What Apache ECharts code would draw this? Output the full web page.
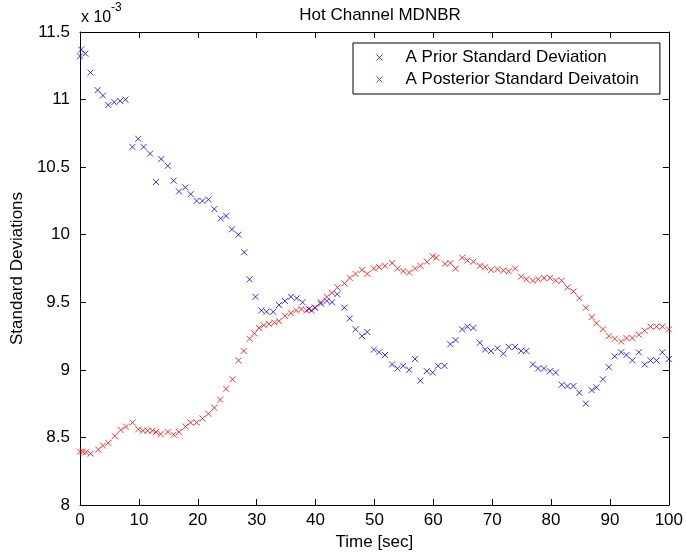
<!DOCTYPE html>
<html>
<head>
<meta charset="utf-8">
<script src="https://cdn.jsdelivr.net/npm/echarts@6/dist/echarts.min.js"></script>
<style>
html,body{margin:0;padding:0;background:#fff;}
#chart{width:686px;height:556px;}
</style>
</head>
<body>
<div id="chart"></div>
<script>
// Values are in units of 1e-3
var priorTime = [0,0.2,0.9,1.8,3.0,3.9,4.8,5.8,6.8,7.7,8.9,9.9,10.8,11.9,12.9,13.8,14.9,15.9,16.8,17.9,18.8,19.8,20.8,21.8,22.8,23.9,24.8,25.8,26.9,27.9,28.8,29.8,30.8,31.7,32.8,33.8,34.8,35.8,36.8,37.8,38.9,39.9,40.9,41.9,42.8,43.7,44.9,45.8,46.8,47.9,48.8,49.9,50.8,51.8,53.0,53.9,54.9,55.9,56.9,57.8,58.9,59.9,60.8,61.9,62.9,63.8,64.9,65.8,66.8,67.9,68.8,69.8,70.9,71.9,72.8,73.9,74.9,75.8,76.9,77.8,78.8,79.8,80.8,81.8,82.8,83.8,84.8,85.9,86.9,87.7,88.8,89.8,90.8,91.9,92.8,93.8,94.9,95.9,96.9,97.9,98.9,100];
var priorStd = [11.32,11.37,11.34,11.2,11.07,11.03,10.96,10.98,10.99,11.0,10.65,10.71,10.65,10.6,10.39,10.56,10.51,10.40,10.32,10.35,10.30,10.25,10.25,10.26,10.19,10.12,10.14,10.04,10.0,9.87,9.67,9.54,9.44,9.43,9.43,9.48,9.51,9.54,9.53,9.50,9.45,9.46,9.49,9.51,9.50,9.56,9.46,9.38,9.30,9.25,9.28,9.15,9.13,9.11,9.04,9.01,9.03,9.00,9.08,8.92,8.99,8.98,9.03,9.03,9.19,9.22,9.30,9.32,9.31,9.20,9.15,9.14,9.16,9.12,9.17,9.17,9.14,9.14,9.04,9.01,9.01,8.99,8.98,8.89,8.88,8.88,8.83,8.75,8.85,8.87,8.93,9.02,9.10,9.13,9.11,9.07,9.13,9.04,9.07,9.07,9.13,9.08];
var postTime = [0,0.45,1.0,1.8,3.1,3.9,4.8,5.9,6.9,7.8,8.9,9.9,10.7,11.5,12.3,12.9,13.7,14.9,15.9,16.8,17.9,18.8,19.8,20.8,21.8,22.8,23.8,24.8,25.9,26.9,27.8,28.8,29.6,30.4,31.2,32.1,33.0,33.8,34.8,35.8,36.7,37.6,38.5,39.3,39.9,40.9,41.9,42.8,43.7,44.9,45.8,46.8,47.9,48.8,49.9,50.8,51.8,53.0,53.9,54.9,55.9,56.9,57.8,58.9,59.9,60.5,62.0,62.9,63.8,64.9,65.8,66.8,67.9,68.8,69.8,70.9,71.9,72.8,73.9,74.9,75.8,76.9,77.8,78.8,79.8,80.8,81.8,82.8,83.8,84.8,85.9,86.9,87.7,88.8,89.8,90.8,91.9,92.8,93.8,94.9,95.9,96.9,97.9,98.9,100];
var postStd = [8.395,8.395,8.39,8.38,8.41,8.44,8.46,8.51,8.555,8.58,8.61,8.56,8.55,8.55,8.55,8.54,8.525,8.54,8.52,8.54,8.58,8.61,8.61,8.64,8.675,8.72,8.78,8.86,8.93,9.07,9.14,9.23,9.27,9.31,9.33,9.34,9.35,9.36,9.40,9.42,9.44,9.45,9.44,9.44,9.46,9.50,9.54,9.57,9.61,9.64,9.68,9.71,9.74,9.71,9.75,9.76,9.77,9.79,9.75,9.73,9.72,9.75,9.77,9.80,9.84,9.83,9.785,9.79,9.75,9.83,9.81,9.80,9.77,9.76,9.74,9.745,9.735,9.73,9.75,9.69,9.67,9.66,9.67,9.68,9.68,9.66,9.66,9.61,9.58,9.53,9.46,9.39,9.345,9.30,9.25,9.23,9.21,9.235,9.235,9.26,9.29,9.32,9.32,9.32,9.30];
var seriesNames = ['A Prior Standard Deviation','A Posterior Standard Deivatoin'];
var seriesColors = ['#0000ff','#ff0000'];
var xTicks = {min:0, max:100, interval:10};
var yTicks = {min:8, max:11.5, interval:0.5};

function pairs(xs, ys){ return xs.map(function(x,i){ return [x, ys[i]]; }); }

var FONT = '"Liberation Sans", Arial, Helvetica, sans-serif';
var FS = 17;
var cross = 'path://M0,0L10,10M10,0L0,10';
var chart = echarts.init(document.getElementById('chart'), null, {renderer:'canvas'});

function axisCommon(extra){
  return Object.assign({
    type:'value',
    axisLine:{show:true, onZero:false, lineStyle:{color:'#000', width:1}},
    axisTick:{show:true, inside:true, length:6, lineStyle:{color:'#000', width:1}},
    splitLine:{show:false},
    axisLabel:{show:false}
  }, extra);
}

chart.setOption({
  backgroundColor:'#fff',
  animation:false,
  textStyle:{fontFamily:FONT},
  title:{
    text:'Hot Channel MDNBR', left:375, textAlign:'center', top:2,
    textStyle:{fontSize:FS, fontWeight:'normal', color:'#000', fontFamily:FONT}
  },
  grid:{left:80, right:16, top:32, bottom:51, containLabel:false},
  xAxis:[
    axisCommon({position:'bottom', min:xTicks.min, max:xTicks.max, interval:xTicks.interval,
      axisLabel:{show:true, color:'#000', fontSize:FS, margin:7, fontFamily:FONT},
      name:'Time [sec]', nameLocation:'middle', nameGap:28,
      nameTextStyle:{color:'#000', fontSize:FS, fontFamily:FONT}}),
    axisCommon({position:'top', min:xTicks.min, max:xTicks.max, interval:xTicks.interval})
  ],
  yAxis:[
    axisCommon({position:'left', min:yTicks.min, max:yTicks.max, interval:yTicks.interval,
      axisLabel:{show:true, color:'#000', fontSize:FS, margin:10, fontFamily:FONT},
      name:'Standard Deviations', nameLocation:'middle', nameGap:52,
      nameTextStyle:{color:'#000', fontSize:FS, fontFamily:FONT}}),
    axisCommon({position:'right', min:yTicks.min, max:yTicks.max, interval:yTicks.interval})
  ],
  legend:{
    orient:'vertical', left:353, top:43,
    padding:[6,21,6,23], itemGap:5, itemWidth:6, itemHeight:6,
    borderColor:'#000', borderWidth:1, backgroundColor:'#fff',
    textStyle:{color:'#000', fontSize:FS, lineHeight:17, fontFamily:FONT, padding:[0,0,0,18]},
    data:seriesNames.map(function(n,i){
      return {name:n, icon:cross, itemStyle:{color:'rgba(0,0,0,0)', borderColor:seriesColors[i], borderWidth:1}};
    })
  },
  graphic:[
    {type:'text', left:81, top:10, style:{text:'x 10', fontSize:16, fontFamily:FONT, fill:'#000'}},
    {type:'text', left:111, top:2, style:{text:'-3', fontSize:12, fontFamily:FONT, fill:'#000'}}
  ],
  series:[
    {name:seriesNames[0], type:'scatter', data:pairs(priorTime, priorStd), symbol:cross, symbolSize:6,
     itemStyle:{color:'rgba(0,0,0,0)', borderColor:seriesColors[0], borderWidth:1}, z:3},
    {name:seriesNames[1], type:'scatter', data:pairs(postTime, postStd), symbol:cross, symbolSize:6,
     itemStyle:{color:'rgba(0,0,0,0)', borderColor:seriesColors[1], borderWidth:1}, z:2}
  ]
});
</script>
</body>
</html>
